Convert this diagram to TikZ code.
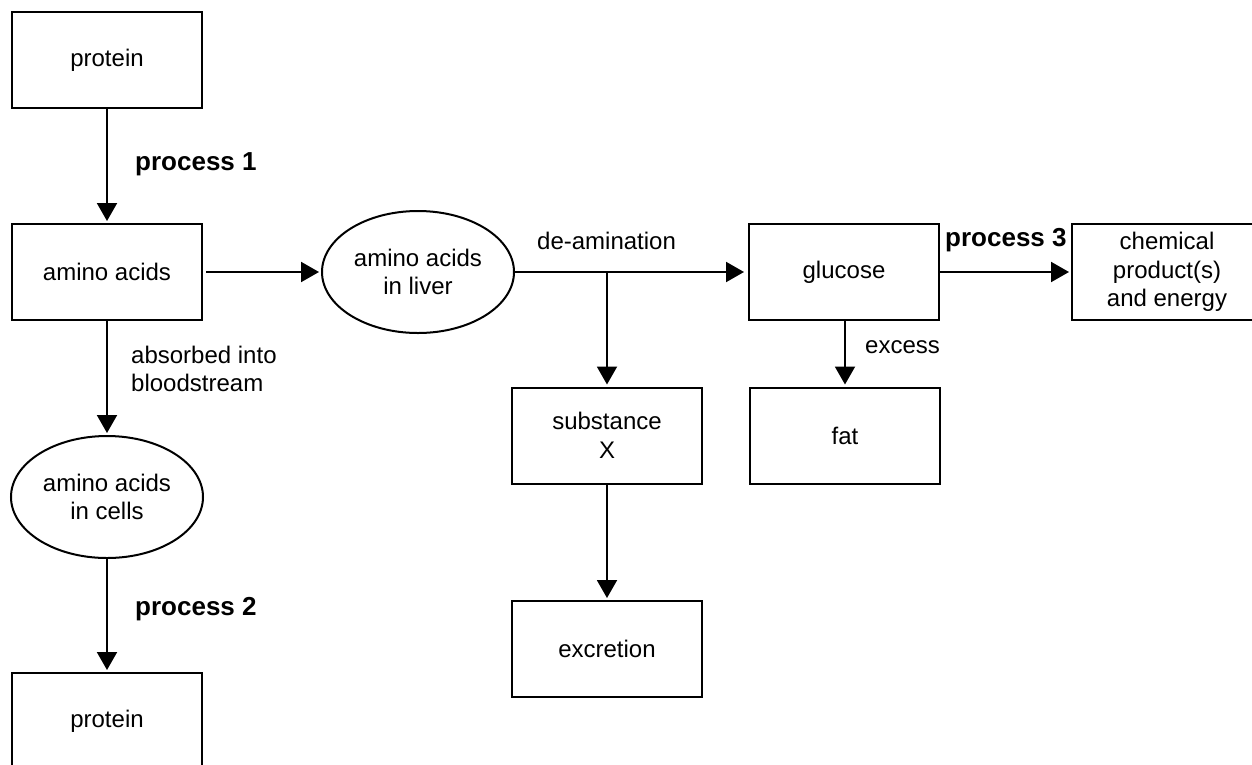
\documentclass[tikz,border=0pt]{standalone}
\usepackage{fontspec}
\setmainfont{Liberation Sans}
\usetikzlibrary{arrows.meta,shapes.geometric}
\begin{document}
\begin{tikzpicture}[x=1pt,y=-1pt,
  box/.style={draw,line width=2pt,minimum width=190pt,minimum height=96pt,inner sep=0pt,align=center,font=\fontsize{24}{28.5}\selectfont},
  oval/.style={draw,ellipse,line width=2pt,minimum width=192pt,minimum height=122pt,inner sep=0pt,align=center,font=\fontsize{24}{28.5}\selectfont},
  arr/.style={line width=2pt,-{Triangle[width=20pt,length=18pt]},shorten >=2pt},
  lbl/.style={inner sep=0pt,align=left,font=\fontsize{24}{28.5}\selectfont},
  blbl/.style={inner sep=0pt,font=\fontsize{26}{30}\selectfont\bfseries}]
\useasboundingbox (0,0) rectangle (1252,764);
% nodes
\node[box] (p1) at (107,60) {protein};
\node[box] (aa) at (107,272) {amino acids};
\node[oval] (cells) at (107,497) {amino acids\\in cells};
\node[box] (p2) at (107,721) {protein};
\node[oval] (liver) at (418,272) {amino acids\\in liver};
\node[box] (glu) at (844,272) {glucose};
\node[box] (chem) at (1167,272) {chemical\\product(s)\\and energy};
\node[box] (subst) at (607,435.5) {substance\\X};
\node[box] (excr) at (607,649) {excretion};
\node[box] (fat) at (845,435.5) {fat};
\coordinate (br) at (607,272);
% connectors
\draw[arr] (p1) -- (aa);
\draw[arr,shorten <=3pt] (aa) -- (liver);
\draw[arr] (aa) -- (cells);
\draw[arr] (cells) -- (p2);
\draw[arr,shorten >=4pt] (liver) -- (glu);
\draw[arr] (br) -- (subst);
\draw[arr] (subst) -- (excr);
\draw[arr] (glu.south -| fat) -- (fat);
\draw[arr] (glu) -- (chem);
% labels
\node[blbl,anchor=west] (l1) at (135,164) {process 1};
\node[blbl,anchor=west] (l2) at (135,609) {process 2};
\node[blbl,anchor=west] (l3) at (945,240) {process 3};
\node[lbl,anchor=west] (l4) at (131,369) {absorbed into\\bloodstream};
\node[lbl,anchor=west] (l5) at (537,241) {de-amination};
\node[lbl,anchor=west] (l6) at (865,347) {excess};
\end{tikzpicture}
\end{document}
